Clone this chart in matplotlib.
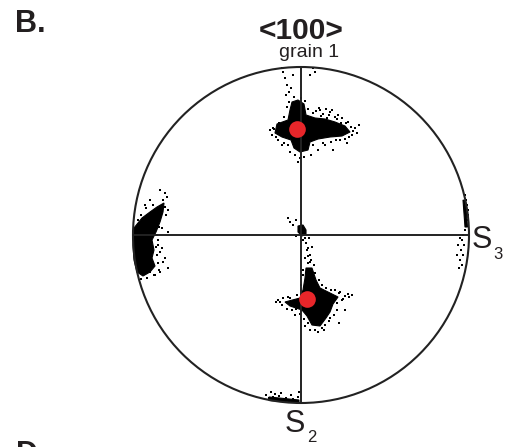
"""
Pole figure <100>, grain 1, in the S2-S3 plane.
Coordinates are on a net of radius 168 centred on (0, 0).
"""

import numpy as np
import matplotlib.pyplot as plt
from matplotlib.patches import Circle, Polygon

plt.rcParams['font.family'] = ['Liberation Sans', 'DejaVu Sans']

R = 168

# dense cores of the point clouds (outline of the black areas)
top_core = [(-9, 133), (-3, 135), (3, 131), (5, 120), (14, 117), (24, 116),
            (34, 113), (44, 109), (49, 103), (41, 99), (29, 98), (17, 96),
            (9, 93), (7, 85), (-1, 83), (-7, 87), (-10, 95), (-19, 98),
            (-26, 102), (-24, 111), (-13, 115), (-11, 125)]
left_core = [(-167, 7), (-159, 17), (-151, 23), (-144, 28), (-137, 32),
             (-138, 23), (-141, 13), (-145, 3), (-149, -5), (-147, -15),
             (-149, -23), (-146, -31), (-151, -37), (-158, -41), (-164, -37),
             (-167, -25), (-168, -10)]
bottom_core = [(5, -33), (11, -33), (15, -45), (19, -53), (29, -58), (37, -62),
               (32, -69), (29, -77), (25, -83), (19, -91), (11, -90), (6, -81),
               (1, -75), (-11, -71), (-16, -67), (-1, -63), (2, -55), (4, -43)]
centre_core = [(-3, 9), (2, 10), (5, 5), (5, 1), (1, -1), (-3, 3)]
right_core = [(162, 35), (164.5, 34), (166.5, 8), (164, 8)]
edge_core = [(-32, -162), (-2, -165), (-2, -167.5), (-32, -165.5)]

# scattered single points around the cores
top_pts = [(-18, 163), (-16, 157), (-14, 150), (-12, 143), (-15, 140), (-10, 147),
           (-19, 167), (-8, 160), (12, 167), (9, 160), (14, 163), (29, 123),
           (37, 120), (41, 117), (47, 113), (51, 100), (39, 95), (24, 90),
           (17, 85), (32, 85), (54, 107), (19, 125), (-28, 107), (-31, 105),
           (-23, 95), (-19, 90), (-6, 80), (-1, 77), (-3, 73), (-11, 83),
           (15, 124), (18, 127), (22, 121), (25, 126), (28, 120), (31, 125),
           (34, 118), (20, 119), (26, 117), (12, 122), (36, 116), (40, 112),
           (45, 112), (50, 108), (52, 104), (48, 98), (44, 96), (35, 95),
           (30, 93), (22, 92), (12, 90), (10, 80), (3, 78), (-13, 90),
           (-17, 92), (-25, 98), (-29, 100), (-27, 106), (-22, 112), (-17, 118),
           (-14, 128), (-12, 133), (-7, 138), (0, 137), (4, 134), (7, 126),
           (-16, 104), (56, 102), (58, 110), (46, 92)]
left_pts = [(-136, 42), (-134, 38), (-138, 35), (-141, 25), (-143, 15), (-139, 7),
            (-133, 3), (-143, -10), (-141, -17), (-136, -23), (-133, -33),
            (-141, -37), (-151, -37), (-146, -40), (-156, 30), (-151, 35),
            (-141, 45), (-135, 20), (-133, 25), (-136, 28), (-140, 20),
            (-142, 8), (-144, 0), (-143, -5), (-144, -20), (-143, -28),
            (-142, -35), (-147, -40), (-154, -43), (-160, -44), (-145, -12),
            (-139, -13), (-138, -27), (-148, 30), (-155, 27), (-160, 20),
            (-163, 15)]
bottom_pts = [(5, -8), (6, -15), (7, -21), (9, -27), (4, -23), (11, -12), (8, -3),
              (34, -55), (39, -57), (44, -61), (41, -65), (36, -75), (29, -83),
              (44, -75), (47, -59), (-21, -67), (-23, -65), (-9, -75), (-6, -80),
              (-11, -63), (9, -95), (17, -97), (21, -93), (24, -90), (4, -91),
              (13, -30), (7, -28), (14, -38), (18, -45), (21, -50), (25, -53),
              (30, -55), (38, -58), (42, -64), (36, -68), (33, -80), (28, -86),
              (23, -95), (14, -95), (7, -88), (3, -84), (-1, -79), (-5, -74),
              (-14, -74), (-19, -70), (-25, -67), (-18, -63), (-4, -60), (0, -50),
              (2, -40), (2, -35), (48, -62), (51, -60), (38, -88), (-13, -62)]
centre_pts = [(-13, 17), (-11, 13), (-8, 10), (-5, 15), (4, -3), (7, -13),
              (9, -20), (10, -25), (2, -5), (-5, -1)]
right_pts = [(164, 40), (165, 35), (166, 30), (167, 25), (167, 20), (166, 15),
             (165, 10), (164, 5), (162, 0), (161, -5), (163, -10), (160, -15),
             (162, -20), (159, -25), (161, -30), (158, -33), (157, -10),
             (159, -3), (156, -20)]
edge_pts = [(-35, -160), (-32, -163), (-28, -162), (-25, -164), (-22, -161),
            (-18, -165), (-15, -163), (-12, -166), (-8, -164), (-5, -166),
            (-3, -162), (-20, -158), (-30, -157), (-26, -159), (-10, -160),
            (-2, -157)]

# mean orientations (red dots)
mean_x = [-3.7, 6.3]
mean_y = [105.7, -64.3]

fig = plt.figure(figsize=(5.07, 4.47), dpi=100)
ax = fig.add_axes([0, 0, 1, 1])
ax.set_xlim(-301, 206)
ax.set_ylim(-212, 235)
ax.set_aspect('equal')
ax.axis('off')

for core in [top_core, left_core, bottom_core, centre_core, right_core, edge_core]:
    ax.add_patch(Polygon(core, closed=True, fc='black', ec='black', lw=0.8))

pts = np.array(top_pts + left_pts + bottom_pts + centre_pts + right_pts + edge_pts)
ax.scatter(pts[:, 0], pts[:, 1], s=1.3, marker='s', c='black', lw=0)

ax.plot([-R, R], [0, 0], color='#222222', lw=1.4)
ax.plot([0, 0], [-R, R], color='#222222', lw=1.4)
ax.add_patch(Circle((0, 0), R, fill=False, ec='#222222', lw=1.5))

ax.plot(mean_x, mean_y, 'o', color='#e8262a', ms=12, mec='none')

ax.text(-286, 203, 'B.', fontsize=22, fontweight='bold', color='#231f20')
ax.text(-285, -228, 'D.', fontsize=22, fontweight='bold', color='#231f20')
ax.text(0.5, 195.7, '<100>', fontsize=21.5, fontweight='bold', ha='center',
        color='#231f20')
ax.text(8, 178.3, 'grain 1', fontsize=14, ha='center', color='#231f20')
ax.text(171, -13, 'S', fontsize=22, color='#231f20')
ax.text(192, -24, '3', fontsize=12, color='#231f20')
ax.text(-16, -197, 'S', fontsize=22, color='#231f20')
ax.text(6, -207, '2', fontsize=12, color='#231f20')

fig.savefig('out.png', dpi=100)
plt.close(fig)
